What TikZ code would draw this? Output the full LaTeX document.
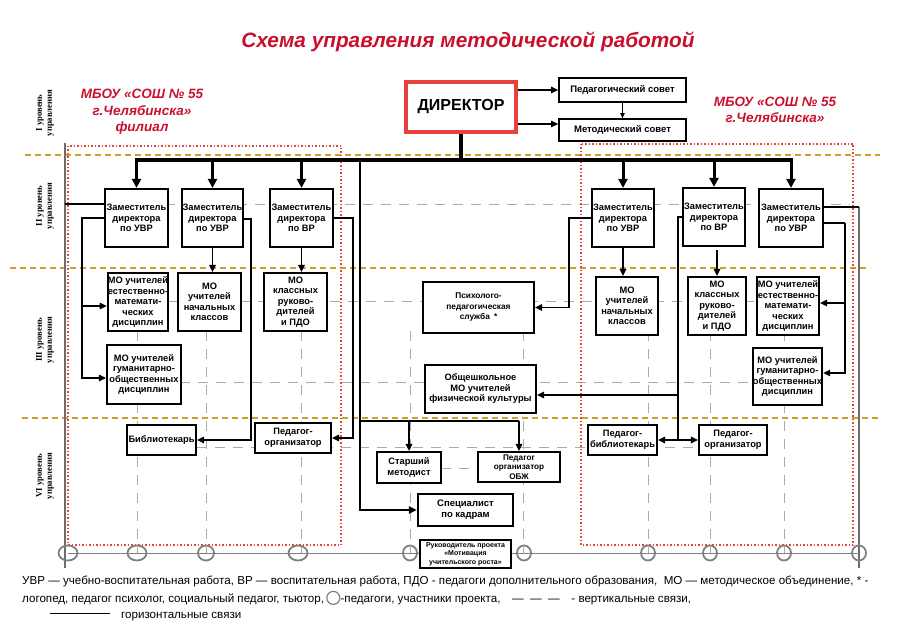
\documentclass[tikz,border=0pt]{standalone}
\usepackage{fontspec}
\setmainfont{Liberation Sans}
\newfontfamily\serifb{Liberation Serif}
\newfontfamily\legfont{Liberation Sans}
\usetikzlibrary{arrows.meta,shapes.geometric}
\definecolor{ttl}{HTML}{C8102E}
\definecolor{dirred}{HTML}{E8413C}
\definecolor{gold}{HTML}{C9A227}
\definecolor{dotred}{HTML}{E0463C}
\definecolor{gridg}{HTML}{ABABAB}
\definecolor{circg}{HTML}{808080}
\tikzset{
 box/.style={draw=black, line width=2.2pt, fill=white, align=center, inner sep=1pt, font=\bfseries\fontsize{9.3}{10.5}\selectfont},
 bx/.style 2 args={minimum width=#1pt, minimum height=#2pt},
 arr/.style={-{Triangle[length=7pt,width=6.5pt]}, line width=1.3pt},
 conn/.style={line width=1.3pt},
 busline/.style={line width=3.5pt},
 busarr/.style={-{Triangle[length=9pt,width=9pt]}, line width=3pt},
 gridln/.style={draw=gridg, line width=0.9pt, dash pattern=on 10pt off 8pt},
 lvl/.style={draw=gold, line width=2.6pt, dash pattern=on 6pt off 4pt},
 redframe/.style={draw=dotred, line width=1.1pt, dash pattern=on 1.5pt off 2pt},
 bcirc/.style={draw=circg, line width=1.8pt, ellipse, inner sep=0pt, minimum height=15pt},
 outer/.style={draw=circg!85!black, line width=1.5pt},
 lvltxt/.style={rotate=90, align=center, font=\serifb\bfseries\fontsize{8.7}{10}\selectfont},
 redtxt/.style={text=ttl, align=center, font=\bfseries\itshape\fontsize{13.5}{16.5}\selectfont},
 legtxt/.style={inner sep=0pt, font=\legfont\fontsize{11.6}{13}\selectfont},
}
\begin{document}
\begin{tikzpicture}[x=1pt,y=-1pt]
\useasboundingbox (0,0) rectangle (900,636);

% title and headings
\node[text=ttl, font=\bfseries\itshape\fontsize{20.8}{24}\selectfont] (title) at (468,42) {Схема управления методической работой};
\node[redtxt] (fil) at (142,112) {МБОУ «СОШ № 55\\г.Челябинска»\\филиал};
\node[redtxt] (mainsch) at (775,110) {МБОУ «СОШ № 55\\г.Челябинска»};

\node[lvltxt] (lv1) at (45,113) {I уровень\\управления};
\node[lvltxt] (lv2) at (45,206) {II уровень\\управления};
\node[lvltxt] (lv3) at (45,340) {III уровень\\управления};
\node[lvltxt] (lv4) at (45,476) {VI уровень\\управления};

% grey dashed grid
\draw[gridln] (165,204) -- (850,204);
\draw[gridln] (168,301) -- (757,301);
\draw[gridln] (180,382) -- (753,382);
\draw[gridln] (197,447) -- (700,447);
\draw[gridln] (441,468) -- (478,468);
\foreach \x in {137,206,301,410,523,648,710,784}
  \draw[gridln] (\x,331) -- (\x,553);

% level separators
\draw[lvl] (25,155) -- (880,155);
\draw[lvl] (10,268) -- (870,268);
\draw[lvl] (22,418) -- (880,418);

% red dotted frames
\draw[redframe] (68,146) rectangle (341,545);
\draw[redframe] (581,144) rectangle (853,545);

% outer grey lines
\coordinate (olT) at (65,143); \coordinate (olB) at (65,568);
\coordinate (orT) at (859,207); \coordinate (orB) at (859,568);
\draw[outer] (olT) -- (olB);
\draw[outer] (orT) -- (orB);

% bottom circles
\foreach \x/\w in {68/19,137/19,206/16,298/19,410/14,524/14,648/14,710/14,784/14,859/14}
  \node[bcirc, minimum width=\w pt] (c\x) at (\x,553) {};
\draw[draw=circg, line width=1pt] (c68.center) -- (c859.center);

% boxes
\node[box, bx={110}{50}, draw=dirred, line width=3.5pt, font=\bfseries\fontsize{16}{18}\selectfont] (dir) at (461,107) {ДИРЕКТОР};
\node[box, bx={127}{24}, line width=1.8pt, font=\bfseries\fontsize{9.5}{11}\selectfont] (ps) at (622.5,90) {Педагогический совет};
\node[box, bx={127}{22}, line width=1.8pt, font=\bfseries\fontsize{9.5}{11}\selectfont] (ms) at (622.5,130) {Методический совет};

\node[box, bx={63}{58}] (L2a) at (136.5,218) {Заместитель\\директора\\по УВР};
\node[box, bx={61}{58}] (L2b) at (212.5,218) {Заместитель\\директора\\по УВР};
\node[box, bx={63}{58}] (L2c) at (301.5,218) {Заместитель\\директора\\по ВР};
\node[box, bx={62}{58}] (R2a) at (623,218) {Заместитель\\директора\\по УВР};
\node[box, bx={62}{58}] (R2b) at (714,217) {Заместитель\\директора\\по ВР};
\node[box, bx={64}{58}] (R2c) at (791,218) {Заместитель\\директора\\по УВР};

\node[box, bx={60}{58}, inner sep=0pt] (L3a) at (138,302) {МО учителей\\естественно-\\математи-\\ческих\\дисциплин};
\node[box, bx={63}{58}] (L3b) at (209.5,302) {МО\\учителей\\начальных\\классов};
\node[box, bx={63}{58}] (L3c) at (295.5,302) {МО\\классных\\руково-\\дителей\\и ПДО};
\node[box, bx={74}{59}, inner sep=0pt] (L3d) at (144,374.5) {МО учителей\\гуманитарно-\\общественных\\дисциплин};
\node[box, bx={111}{51}, font=\bfseries\fontsize{8.3}{10.5}\selectfont] (Psy) at (478.5,307.5) {Психолого-\\педагогическая\\служба\enspace*};
\node[box, bx={111}{48}] (Phys) at (480.5,389) {Общешкольное\\МО учителей\\физической культуры};
\node[box, bx={62}{58}] (R3a) at (627,306) {МО\\учителей\\начальных\\классов};
\node[box, bx={58}{58}] (R3b) at (717,306) {МО\\классных\\руково-\\дителей\\и ПДО};
\node[box, bx={62}{58}, inner sep=0pt] (R3c) at (788,306) {МО учителей\\естественно-\\математи-\\ческих\\дисциплин};
\node[box, bx={69}{57}, inner sep=0pt] (R3d) at (787.5,376.5) {МО учителей\\гуманитарно-\\общественных\\дисциплин};

\node[box, bx={69}{30}] (Lib) at (161.5,440) {Библиотекарь};
\node[box, bx={76}{30}] (POL) at (293,438) {Педагог-\\организатор};
\node[box, bx={64}{31}] (SM) at (409,467.5) {Старший\\методист};
\node[box, bx={82}{30}, font=\bfseries\fontsize{8.2}{9.7}\selectfont] (OBZH) at (519,467) {Педагог\\организатор\\ОБЖ};
\node[box, bx={95}{32}, font=\bfseries\fontsize{9.5}{11}\selectfont] (Spec) at (465.5,510) {Специалист\\по кадрам};
\node[box, bx={91}{28}, inner sep=0pt, font=\bfseries\fontsize{7}{8.5}\selectfont] (Ruk) at (465.5,554) {Руководитель проекта\\«Мотивация\\учительского роста»};
\node[box, bx={69}{30}] (RLib) at (622.5,440) {Педагог-\\библиотекарь};
\node[box, bx={68}{30}] (RPO) at (733,440) {Педагог-\\организатор};

% top connectors
\draw[arr] ([yshift=17pt]dir.east) -- ([yshift=17pt]dir.east -| ps.west);
\draw[arr] ([yshift=-17pt]dir.east) -- ([yshift=-17pt]dir.east -| ms.west);
\draw[-{Triangle[length=5pt,width=4.5pt]}, line width=0.8pt] (ps.south) -- (ms.north);

% bus
\coordinate (busL) at (136.5,160); \coordinate (busR) at (791,160);
\draw[busline] (dir.south) -- (dir.south |- busL);
\draw[busline, line cap=rect] (busL) -- (busR);
\foreach \n in {L2a,L2b,L2c,R2a,R2b,R2c}
  \draw[busarr] (\n.north |- busL) -- (\n.north);

% central line
\coordinate (cv) at (360,160);
\coordinate (h421) at (360,421);
\draw[line width=2pt, -{Triangle[length=8pt,width=7pt]}] (cv) |- (Spec.west);
\draw[conn, line width=1.6pt] (h421) -- (h421 -| OBZH.north);
\draw[arr] (h421 -| SM.north) -- (SM.north);
\draw[arr] (h421 -| OBZH.north) -- (OBZH.north);

% left connectors
\draw[conn] ([yshift=14pt]L2a.west) -- ([yshift=14pt]L2a.west -| olT);
\coordinate (lb) at (82,219);
\draw[arr] (L2a.west) -- (L2a.west -| lb) |- ([yshift=-3.5pt]L3d.west);
\draw[arr] ([yshift=-4pt]L3a.west -| lb) -- ([yshift=-4pt]L3a.west);
\draw[arr] (L2b.south) -- (L2b.south |- L3b.north);
\draw[arr] (L2c.south) -- (L2c.south |- L3c.north);
\draw[arr] ([yshift=-1pt]L2b.east) -- ++(6.5,0) |- (Lib.east);
\draw[arr] (L2c.east) -- ++(19,0) |- (POL.east);

% right connectors
\draw[arr] (R2a.west) -- ++(-22,0) |- (Psy.east);
\coordinate (v678) at (678,440);
\draw[conn] (R2b.west) -| (v678);
\draw[arr] (R2b.west -| v678) |- ([yshift=-6pt]Phys.east);
\draw[arr] (v678) -- (RLib.east);
\draw[arr] (v678) -- (RPO.west);
\draw[arr] (R2a.south) -- (R2a.south |- R3a.north);
\draw[arr, shorten <=3pt] (R2b.south -| R3b.north) -- (R3b.north);
\coordinate (rb) at (845,223);
\draw[conn] ([yshift=-5pt]R2c.east) -- (rb);
\draw[arr] (rb) |- ([yshift=3.5pt]R3d.east);
\draw[arr] ([yshift=3pt]R3c.east -| rb) -- ([yshift=3pt]R3c.east);
\draw[conn] ([yshift=11pt]R2c.east) -- ([yshift=11pt]R2c.east -| orT);

% legend
\node[legtxt, anchor=base west] (lg1) at (22,584) {УВР — учебно-воспитательная работа, ВР — воспитательная работа, ПДО - педагоги дополнительного образования,\ \ МО — методическое объединение, * -};
\node[legtxt, anchor=base west] (lg2a) at (22,602) {логопед, педагог психолог, социальный педагог, тьютор,};
\node[circle, draw=circg, line width=1.2pt, minimum size=13pt, inner sep=0pt, anchor=west] (lgc) at ([xshift=2pt,yshift=1pt]lg2a.east) {};
\node[legtxt, anchor=base west] (lg2b) at (lgc.east |- lg2a.base) {-педагоги, участники проекта,\quad —\ \ —\ \ —\quad - вертикальные связи,};
\coordinate (hl1) at (50,613); \coordinate (hl2) at (110,613);
\draw[line width=0.8pt] (hl1) -- (hl2);
\node[legtxt, anchor=base west] (lg3) at (121,618) {горизонтальные связи};
\end{tikzpicture}
\end{document}
